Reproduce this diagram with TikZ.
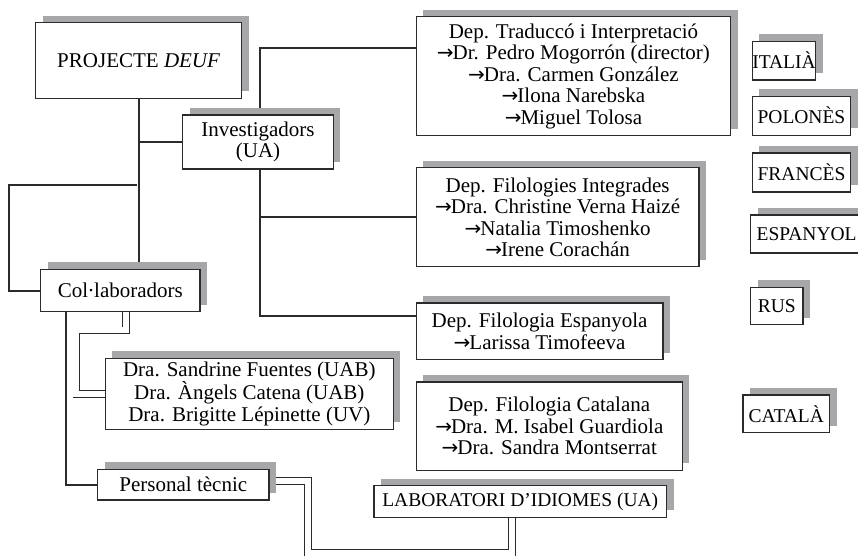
\documentclass[tikz,border=0pt]{standalone}
\usepackage{fontspec}
\setmainfont{Liberation Serif}
\newfontfamily\arrowfont{DejaVu Sans}
\usetikzlibrary{positioning,shadows,backgrounds}
\definecolor{shadowgray}{HTML}{A7A7AA}
\definecolor{linegray}{HTML}{2B2B2B}
\tikzset{
    every node/.append style = {
        text = black,
        font = \fontsize{21}{21.5}\selectfont
    },
    box/.style = {
        rectangle,
        draw = linegray,
        line width = 1.2pt,
        fill = white,
        align = center,
        inner sep = 0pt,
        general shadow = {fill = shadowgray, shadow xshift = 7pt, shadow yshift = 7pt}
    },
    langbox/.style = {
        box,
        anchor = north west,
        font = \fontsize{19.5}{21.5}\selectfont
    },
    link/.style = {
        draw = linegray,
        line width = 2pt
    },
    dlink/.style = {
        draw = linegray,
        line width = 0.9pt,
        double = white,
        double distance = 5.8pt
    }
}
\newcommand{\ar}{{\arrowfont\fontsize{20}{21.5}\selectfont →}\kern-1pt}

\begin{document}
\begin{tikzpicture}[x=1pt, y=-1pt]
    \useasboundingbox (0,0) rectangle (858,555);
    % project and groups
    \node (proj) [box, minimum width=206pt, minimum height=75.6pt] at (138.7,60.5) {PROJECTE \textit{DEUF}};
    \node (inv) [box, minimum width=150.6pt, minimum height=54pt] at (258,142) {Investigadors\\(UA)};
    \node (col) [box, minimum width=159.3pt, minimum height=42.4pt] at (120.3,290.5) {Col\kern-0.5pt·\kern-0.5pt laboradors};
    \node (ext) [box, minimum width=288pt, minimum height=71pt] at (249.3,393.8) {Dra. Sandrine Fuentes (UAB)\\Dra. Àngels Catena (UAB)\\Dra. Brigitte Lépinette (UV)};
    \node (tec) [box, minimum width=171.3pt, minimum height=30.7pt] at (183.3,484.7) {Personal tècnic};

    % departments
    \node (dtrad) [box, anchor=north west, minimum width=314.3pt, minimum height=119pt] at (415.7,16) {Dep. Traduccó i Interpretació\\\ar Dr. Pedro Mogorrón (director)\\\ar Dra. Carmen González\\\ar Ilona Narebska\\\ar Miguel Tolosa};
    \node (dfil) [box, below=31pt of dtrad.south west, anchor=north west, minimum width=282.6pt, minimum height=99pt] {Dep. Filologies Integrades\\\ar Dra. Christine Verna Haizé\\\ar Natalia Timoshenko\\\ar Irene Corachán};
    \node (desp) [box, below=35pt of dfil.south west, anchor=north west, minimum width=246.6pt, minimum height=56.7pt] {Dep. Filologia Espanyola\\\ar Larissa Timofeeva};
    \node (dcat) [box, below=21pt of desp.south west, anchor=north west, minimum width=266pt, minimum height=88.3pt] {Dep. Filologia Catalana\\\ar Dra. M. Isabel Guardiola\\\ar Dra. Sandra Montserrat};
    \node (lab) [langbox, minimum width=292.7pt, minimum height=31.7pt] at (373.3,485) {LABORATORI D’IDIOMES (UA)};

    % languages
    \node (ita) [langbox, minimum width=63.3pt, minimum height=38.6pt] at (751.7,40.7) {ITALIÀ};
    \node (pol) [langbox, below=15pt of ita.south west, anchor=north west, minimum width=98.3pt, minimum height=39pt] {POLONÈS};
    \node (fra) [langbox, below=16.7pt of pol.south west, anchor=north west, minimum width=98.3pt, minimum height=39pt] {FRANCÈS};
    \node (espy) [langbox, minimum width=112pt, minimum height=38pt] at (750,214.3) {ESPANYOL};
    \node (rus) [langbox, minimum width=52.3pt, minimum height=37.3pt] at (750,286.7) {RUS};
    \node (cat) [langbox, minimum width=86.7pt, minimum height=37.7pt] at (742.3,394.3) {CATALÀ};

    \begin{scope}[on background layer]
        \coordinate (jc) at (136.7,185);
        \draw[link] (proj.south) -- (proj.south |- col.north);
        \draw[link] (proj.south |- inv.west) -- (inv.west);
        \draw[link] (jc) -- ++(-127.4,0) |- (col.west);
        \draw[link] ([xshift=-54.6pt]col.south) |- (tec.west);
        \draw[link] ([yshift=28.5pt]dtrad.west) -| ([xshift=2pt]inv.center) |- ([yshift=15pt]desp.west);
        \draw[link] ([xshift=2pt]inv.center |- dfil.west) -- (dfil.west);
        % double lines
        \draw[dlink] ([xshift=5.4pt]col.south) -- ++(0,18) -- ++(-49.4,0) |- (ext.west);
        \draw[dlink] ([yshift=3.9pt]tec.east) -| ++(38.7,72) -| ([xshift=-8pt]lab.south);
    \end{scope}
\end{tikzpicture}
\end{document}
